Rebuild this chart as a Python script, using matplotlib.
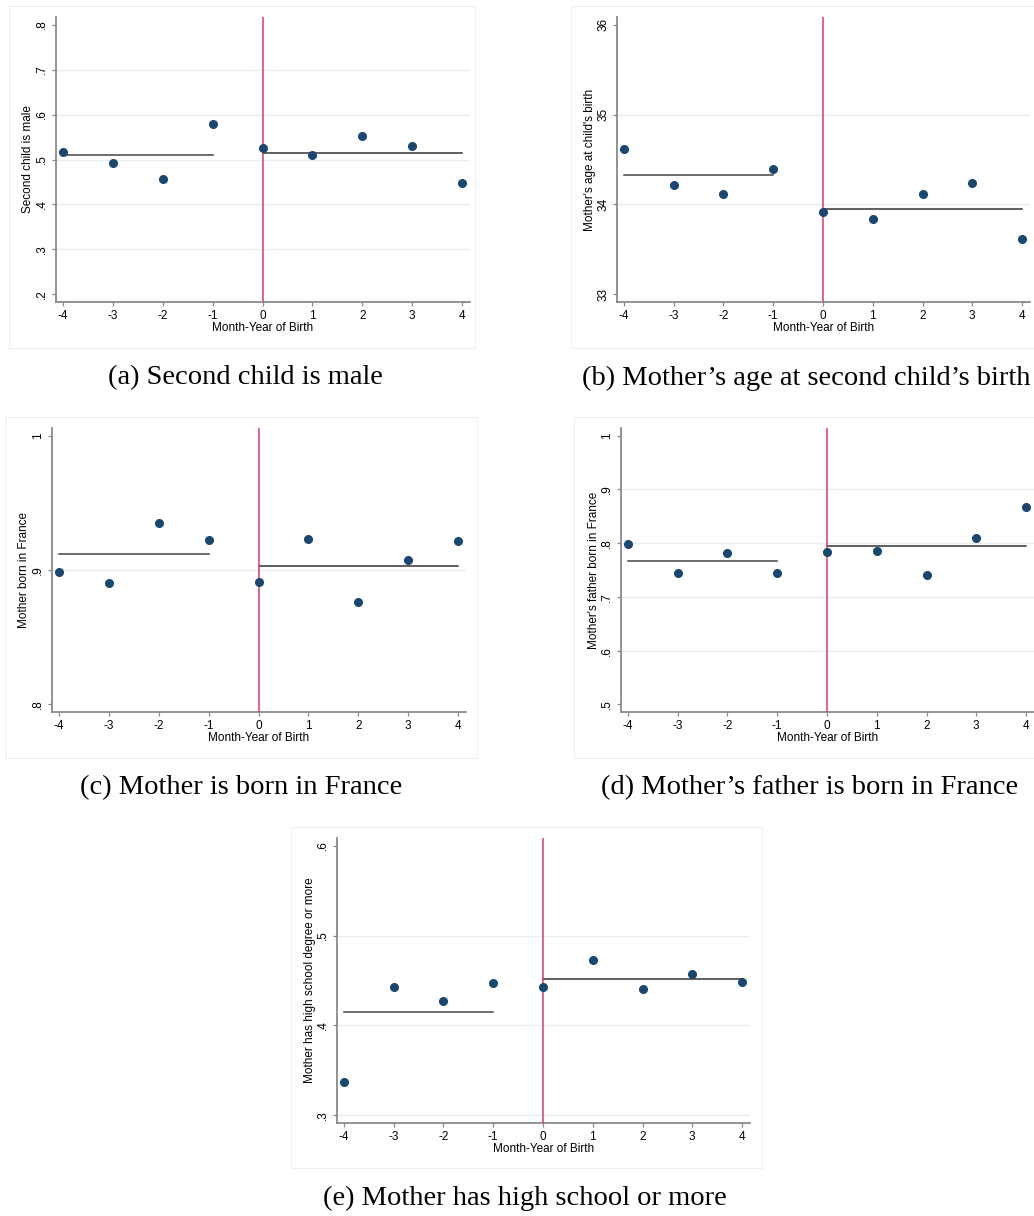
import matplotlib
matplotlib.use("Agg")
import matplotlib.pyplot as plt
from matplotlib.patches import Rectangle

plt.rcParams['font.family'] = ['Liberation Sans', 'DejaVu Sans']

W, H = 1034, 1216

months = [-4, -3, -2, -1, 0, 1, 2, 3, 4]

# bin means by month-year of birth, before / after the cutoff
male = [0.516, 0.493, 0.456, 0.578, 0.526, 0.510, 0.553, 0.530, 0.447]
male_fit = [0.510, 0.515]
male_ticks = [0.2, 0.3, 0.4, 0.5, 0.6, 0.7, 0.8]
male_ticklabels = ['.2', '.3', '.4', '.5', '.6', '.7', '.8']

age = [34.62, 34.22, 34.12, 34.39, 33.92, 33.835, 34.12, 34.24, 33.62]
age_fit = [34.33, 33.95]
age_ticks = [33, 34, 35, 36]
age_ticklabels = ['33', '34', '35', '36']

mfr = [0.8986, 0.8904, 0.9351, 0.9225, 0.8914, 0.9230, 0.8760, 0.9073, 0.9213]
mfr_fit = [0.912, 0.903]
mfr_ticks = [0.8, 0.9, 1.0]
mfr_ticklabels = ['.8', '.9', '1']

ffr = [0.7975, 0.744, 0.781, 0.745, 0.783, 0.786, 0.741, 0.809, 0.8665]
ffr_fit = [0.767, 0.795]
ffr_ticks = [0.5, 0.6, 0.7, 0.8, 0.9, 1.0]
ffr_ticklabels = ['.5', '.6', '.7', '.8', '.9', '1']

hs = [0.337, 0.4426, 0.4277, 0.4474, 0.4433, 0.4723, 0.4407, 0.4567, 0.4482]
hs_fit = [0.4147, 0.4519]
hs_ticks = [0.3, 0.4, 0.5, 0.6]
hs_ticklabels = ['.3', '.4', '.5', '.6']

NAVY = '#1a476f'
RED = '#dc3a64'
SPINE = '#8a8a8a'
GRID = '#e6eef0'

fig = plt.figure(figsize=(W / 100, H / 100), dpi=100)


def px_axes(left, top, right, bottom):
    return fig.add_axes([left / W, 1 - bottom / H, (right - left) / W, (bottom - top) / H])


def region(left, top, right, bottom):
    fig.patches.append(Rectangle((left / W, 1 - bottom / H), (right - left) / W,
                                 (bottom - top) / H, transform=fig.transFigure,
                                 fill=False, edgecolor='#efefef', lw=0.8))


def rd_panel(box, y, fit, ticks, ticklabels, ylabel, caption, cap_x, cap_y, grid):
    ax = px_axes(*box)
    pre = [m for m in months if m < 0]
    post = [m for m in months if m >= 0]
    for t in grid:
        ax.axhline(t, color=GRID, lw=0.9, zorder=0)
    ax.plot([pre[0], pre[-1]], [fit[0], fit[0]], color='#444444', lw=1.1, zorder=2)
    ax.plot([post[0], post[-1]], [fit[1], fit[1]], color='#333333', lw=1.1, zorder=2)
    ax.axvline(0, color=RED, lw=1.1, zorder=3)
    ax.plot(months, y, 'o', color=NAVY, ms=5.5, zorder=4)

    span = ticks[-1] - ticks[0]
    ax.set_ylim(ticks[0] - 0.028 * span, ticks[-1] + 0.028 * span)
    ax.set_xlim(-4.14, 4.16)
    ax.set_xticks(months)
    ax.set_xticklabels([str(m) for m in months])
    ax.set_yticks(ticks)
    ax.set_yticklabels(ticklabels, rotation=90, va='center')

    for s in ['top', 'right']:
        ax.spines[s].set_visible(False)
    for s in ['left', 'bottom']:
        ax.spines[s].set_color(SPINE)
        ax.spines[s].set_linewidth(1.3)
    ax.tick_params(length=3, width=0.9, color=SPINE, labelsize=8.5, pad=2.5)
    ax.tick_params(axis='y', pad=2.5)

    ax.set_xlabel('Month-Year of Birth', fontsize=8.5, labelpad=0)
    ax.set_ylabel(ylabel, fontsize=8.5)
    ax.yaxis.set_label_coords(-0.052, 0.5)

    fig.text(cap_x / W, 1 - cap_y / H, caption, ha='center', va='center',
             fontsize=20.5, family='Liberation Serif')
    return ax


region(9, 6, 475, 348)
rd_panel((56, 17, 470, 302), male, male_fit, male_ticks, male_ticklabels,
         'Second child is male', '(a) Second child is male', 245, 378,
         [0.3, 0.4, 0.5, 0.6, 0.7])

region(571, 6, 1040, 348)
rd_panel((617, 17, 1030, 302), age, age_fit, age_ticks, age_ticklabels,
         "Mother's age at child's birth", '(b) Mother\u2019s age at second child\u2019s birth',
         806, 378, [34, 35])

region(5, 417, 477, 758)
rd_panel((52, 428, 466, 712), mfr, mfr_fit, mfr_ticks, mfr_ticklabels,
         'Mother born in France', '(c) Mother is born in France', 241, 788, [0.9])

region(574, 417, 1040, 758)
rd_panel((621, 428, 1034, 712), ffr, ffr_fit, ffr_ticks, ffr_ticklabels,
         "Mother's father born in France", '(d) Mother\u2019s father is born in France',
         810, 788, [0.6, 0.7, 0.8, 0.9])

region(291, 827, 762, 1168)
rd_panel((337, 838, 750, 1123), hs, hs_fit, hs_ticks, hs_ticklabels,
         'Mother has high school degree or more', '(e) Mother has high school or more',
         525, 1198, [0.3, 0.4, 0.5])

fig.savefig('out.png', dpi=100)
